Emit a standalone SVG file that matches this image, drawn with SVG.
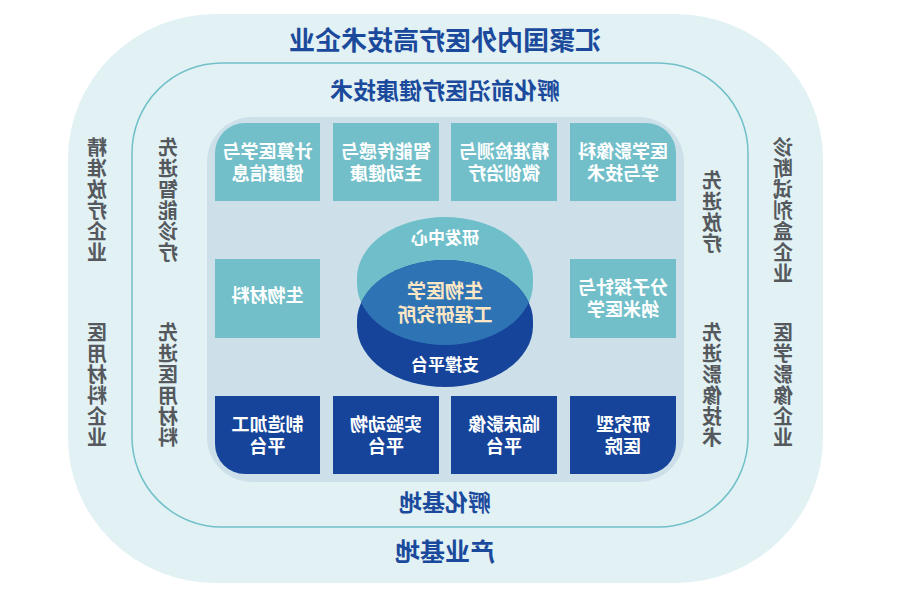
<svg xmlns="http://www.w3.org/2000/svg" width="901" height="591" viewBox="0 0 901 591">
<defs>
<style>
.t{font-family:"Noto Sans CJK SC","Noto Sans",sans-serif;font-weight:700;text-anchor:middle}
.w{fill:#ffffff;font-size:18px}
.side{fill:#55595d;font-size:20px}
.title{fill:#1b4a9c}
.teal{fill:#72bfca}
.navy{fill:#15449a}
</style>
<clipPath id="topShape"><rect x="357" y="217" width="176" height="128" rx="88" ry="61"/></clipPath>
</defs>
<rect width="901" height="591" fill="#ffffff"/>
<g id="outer">
<rect x="68" y="14" width="755" height="569" rx="148" ry="145" fill="#e1f1f4"/>
<text class="t title" font-size="26" x="445" y="50" transform="matrix(-1 0 0 1 890 0)">汇聚国内外医疗高技术企业</text>
<text class="t title" font-size="25" x="445" y="561" transform="matrix(-1 0 0 1 890 0)">产业基地</text>
<text class="t side" x="97" y="155" transform="matrix(-1 0 0 1 194 0)"><tspan x="97">精</tspan><tspan x="97" dy="21">准</tspan><tspan x="97" dy="21">放</tspan><tspan x="97" dy="21">疗</tspan><tspan x="97" dy="21">企</tspan><tspan x="97" dy="21">业</tspan></text>
<text class="t side" x="97" y="340" transform="matrix(-1 0 0 1 194 0)"><tspan x="97">医</tspan><tspan x="97" dy="21">用</tspan><tspan x="97" dy="21">材</tspan><tspan x="97" dy="21">料</tspan><tspan x="97" dy="21">企</tspan><tspan x="97" dy="21">业</tspan></text>
<text class="t side" x="783" y="155" transform="matrix(-1 0 0 1 1566 0)"><tspan x="783">诊</tspan><tspan x="783" dy="21">断</tspan><tspan x="783" dy="21">试</tspan><tspan x="783" dy="21">剂</tspan><tspan x="783" dy="21">盒</tspan><tspan x="783" dy="21">企</tspan><tspan x="783" dy="21">业</tspan></text>
<text class="t side" x="783" y="340" transform="matrix(-1 0 0 1 1566 0)"><tspan x="783">医</tspan><tspan x="783" dy="21">学</tspan><tspan x="783" dy="21">影</tspan><tspan x="783" dy="21">像</tspan><tspan x="783" dy="21">企</tspan><tspan x="783" dy="21">业</tspan></text>
</g>
<g id="middle">
<rect x="132" y="63" width="616" height="464" rx="90" ry="90" fill="#e1f1f4" stroke="#72c0ca" stroke-width="1.5"/>
<text class="t title" font-size="23" x="445" y="99" transform="matrix(-1 0 0 1 890 0)">孵化前沿医疗健康技术</text>
<text class="t title" font-size="23" x="445" y="511" transform="matrix(-1 0 0 1 890 0)">孵化基地</text>
<text class="t side" x="168" y="155" transform="matrix(-1 0 0 1 336 0)"><tspan x="168">先</tspan><tspan x="168" dy="21">进</tspan><tspan x="168" dy="21">智</tspan><tspan x="168" dy="21">能</tspan><tspan x="168" dy="21">诊</tspan><tspan x="168" dy="21">疗</tspan></text>
<text class="t side" x="168" y="340" transform="matrix(-1 0 0 1 336 0)"><tspan x="168">先</tspan><tspan x="168" dy="21">进</tspan><tspan x="168" dy="21">医</tspan><tspan x="168" dy="21">用</tspan><tspan x="168" dy="21">材</tspan><tspan x="168" dy="21">料</tspan></text>
<text class="t side" x="712" y="188" transform="matrix(-1 0 0 1 1424 0)"><tspan x="712">先</tspan><tspan x="712" dy="21">进</tspan><tspan x="712" dy="21">放</tspan><tspan x="712" dy="21">疗</tspan></text>
<text class="t side" x="712" y="340" transform="matrix(-1 0 0 1 1424 0)"><tspan x="712">先</tspan><tspan x="712" dy="21">进</tspan><tspan x="712" dy="21">影</tspan><tspan x="712" dy="21">像</tspan><tspan x="712" dy="21">技</tspan><tspan x="712" dy="21">术</tspan></text>
</g>
<g id="panel">
<rect x="207" y="117" width="477" height="365" rx="45" ry="45" fill="#cde0ea"/>
</g>
<g id="tile-top-1">
<path class="teal" d="M215 153 A30 30 0 0 1 245 123 H320 V201 H215 Z"/>
<text class="t w" x="267.5" y="158" transform="matrix(-1 0 0 1 535 0)"><tspan x="267.5">计算医学与</tspan><tspan x="267.5" dy="22">健康信息</tspan></text>
</g>
<g id="tile-top-2">
<rect class="teal" x="333" y="123" width="106" height="78"/>
<text class="t w" x="386" y="158" transform="matrix(-1 0 0 1 772 0)"><tspan x="386">智能传感与</tspan><tspan x="386" dy="22">主动健康</tspan></text>
</g>
<g id="tile-top-3">
<rect class="teal" x="451" y="123" width="106" height="78"/>
<text class="t w" x="504" y="158" transform="matrix(-1 0 0 1 1008 0)"><tspan x="504">精准检测与</tspan><tspan x="504" dy="22">微创治疗</tspan></text>
</g>
<g id="tile-top-4">
<path class="teal" d="M570 123 H646 A30 30 0 0 1 676 153 V201 H570 Z"/>
<text class="t w" x="623" y="158" transform="matrix(-1 0 0 1 1246 0)"><tspan x="623">医学影像科</tspan><tspan x="623" dy="22">学与技术</tspan></text>
</g>
<g id="tile-mid-left">
<rect class="teal" x="215" y="259" width="105" height="79"/>
<text class="t w" x="267.5" y="302" transform="matrix(-1 0 0 1 535 0)">生物材料</text>
</g>
<g id="tile-mid-right">
<rect class="teal" x="570" y="259" width="106" height="79"/>
<text class="t w" x="623" y="294" transform="matrix(-1 0 0 1 1246 0)"><tspan x="623">分子探针与</tspan><tspan x="623" dy="22">纳米医学</tspan></text>
</g>
<g id="tile-bot-1">
<path class="navy" d="M215 396 H320 V474 H245 A30 30 0 0 1 215 444 Z"/>
<text class="t w" x="267.5" y="431" transform="matrix(-1 0 0 1 535 0)"><tspan x="267.5">制造加工</tspan><tspan x="267.5" dy="22">平台</tspan></text>
</g>
<g id="tile-bot-2">
<rect class="navy" x="333" y="396" width="106" height="78"/>
<text class="t w" x="386" y="431" transform="matrix(-1 0 0 1 772 0)"><tspan x="386">实验动物</tspan><tspan x="386" dy="22">平台</tspan></text>
</g>
<g id="tile-bot-3">
<rect class="navy" x="451" y="396" width="106" height="78"/>
<text class="t w" x="504" y="431" transform="matrix(-1 0 0 1 1008 0)"><tspan x="504">临床影像</tspan><tspan x="504" dy="22">平台</tspan></text>
</g>
<g id="tile-bot-4">
<path class="navy" d="M570 396 H676 V444 A30 30 0 0 1 646 474 H570 Z"/>
<text class="t w" x="623" y="431" transform="matrix(-1 0 0 1 1246 0)"><tspan x="623">研究型</tspan><tspan x="623" dy="22">医院</tspan></text>
</g>
<g id="center">
<rect x="357" y="217" width="176" height="128" rx="88" ry="61" fill="#6fbfcb"/>
<rect x="357" y="260" width="176" height="127" rx="88" ry="61" fill="#15449a"/>
<rect x="357" y="260" width="176" height="127" rx="88" ry="61" fill="#2e74b5" clip-path="url(#topShape)"/>
<text class="t" fill="#ffffff" font-size="17" x="445" y="244" transform="matrix(-1 0 0 1 890 0)">研发中心</text>
<text class="t" fill="#fde6c4" font-size="19" x="445" y="298" transform="matrix(-1 0 0 1 890 0)"><tspan x="445">生物医学</tspan><tspan x="445" dy="24">工程研究所</tspan></text>
<text class="t" fill="#ffffff" font-size="17" x="445" y="371" transform="matrix(-1 0 0 1 890 0)">支撑平台</text>
</g>
<g id="connectors"></g>
</svg>
